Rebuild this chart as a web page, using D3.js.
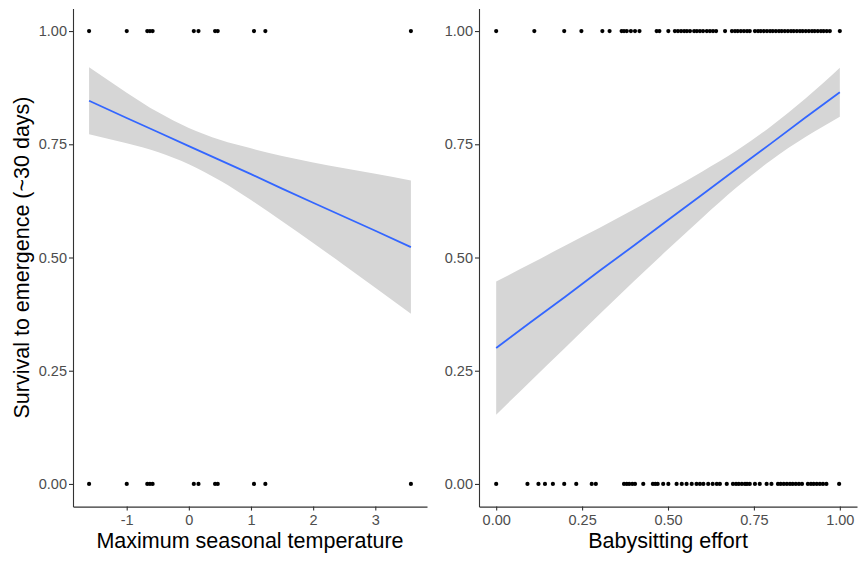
<!DOCTYPE html>
<html>
<head>
<meta charset="utf-8">
<script src="https://cdn.jsdelivr.net/npm/d3@7"></script>
<style>
  html, body { margin: 0; padding: 0; background: #fff; }
  svg { display: block; font-family: Arial, "Liberation Sans", sans-serif; }
</style>
</head>
<body>
<svg id="chart" width="858" height="561"></svg>
<script>
// ---- Panel A: maximum seasonal temperature ----
const tempSurvived = [-1.605, -0.999, -0.669, -0.626, -0.583, 0.080, 0.155, 0.422, 0.465, 1.048, 1.231, 3.573];
const tempDied     = [-1.605, -0.999, -0.669, -0.626, -0.583, 0.080, 0.155, 0.422, 0.465, 1.048, 1.231, 3.573];
// fitted line with 95% confidence band
const tempGrid  = [-1.605, -1.0, -0.5, 0.0, 0.5, 1.0, 1.5, 2.0, 2.5, 3.0, 3.573];
const tempFit   = [0.846, 0.808, 0.777, 0.746, 0.715, 0.684, 0.652, 0.621, 0.590, 0.559, 0.523];
const tempLower = [0.772, 0.752, 0.733, 0.706, 0.670, 0.627, 0.580, 0.532, 0.483, 0.433, 0.376];
const tempUpper = [0.920, 0.864, 0.821, 0.786, 0.760, 0.741, 0.724, 0.710, 0.697, 0.685, 0.670];
const tempTicks = [-1, 0, 1, 2, 3];

// ---- Panel B: babysitting effort ----
const sitSurvived = [0.000, 0.111, 0.198, 0.248, 0.309, 0.330, 0.365, 0.372, 0.380, 0.392, 0.404, 0.417,
  0.467, 0.475, 0.501, 0.520, 0.529, 0.538, 0.547, 0.555, 0.564, 0.576, 0.584, 0.593, 0.602, 0.613,
  0.622, 0.631, 0.640, 0.666, 0.686, 0.695, 0.703, 0.712, 0.721, 0.730, 0.738, 0.753, 0.762, 0.770,
  0.779, 0.788, 0.797, 0.805, 0.814, 0.823, 0.831, 0.840, 0.849, 0.858, 0.866, 0.875, 0.884, 0.892,
  0.901, 0.910, 0.919, 0.927, 0.936, 0.945, 0.953, 0.962, 0.971, 1.000];
const sitDied = [0.000, 0.091, 0.123, 0.142, 0.165, 0.198, 0.233, 0.278, 0.290, 0.372, 0.380, 0.387,
  0.396, 0.404, 0.428, 0.456, 0.463, 0.470, 0.486, 0.501, 0.525, 0.540, 0.554, 0.569, 0.583, 0.593,
  0.603, 0.617, 0.630, 0.642, 0.651, 0.671, 0.689, 0.698, 0.706, 0.715, 0.724, 0.730, 0.738, 0.753,
  0.767, 0.787, 0.801, 0.820, 0.828, 0.837, 0.846, 0.855, 0.863, 0.872, 0.881, 0.890, 0.907, 0.916,
  0.924, 0.933, 0.942, 0.951, 0.961, 0.998];
const sitGrid  = [0.0, 0.1, 0.2, 0.3, 0.4, 0.5, 0.6, 0.7, 0.8, 0.9, 1.0];
const sitFit   = [0.300, 0.357, 0.413, 0.470, 0.526, 0.583, 0.639, 0.696, 0.752, 0.809, 0.865];
const sitLower = [0.153, 0.227, 0.300, 0.374, 0.447, 0.518, 0.588, 0.655, 0.715, 0.766, 0.811];
const sitUpper = [0.447, 0.486, 0.526, 0.565, 0.606, 0.647, 0.690, 0.736, 0.790, 0.851, 0.919];
const sitTicks = [0, 0.25, 0.5, 0.75, 1];

const yTicks = [0, 0.25, 0.5, 0.75, 1];
const yTitle = "Survival to emergence (~30 days)";

const svg = d3.select("#chart");

// y scale shared by both panels (outcome 0/1 padded 5% each side)
const y = d3.scaleLinear().domain([-0.05, 1.05]).range([506.6, 8.4]);

function expand(ext) {
  const pad = (ext[1] - ext[0]) * 0.05;
  return [ext[0] - pad, ext[1] + pad];
}

function panel(opts) {
  const g = svg.append("g");
  const x = d3.scaleLinear()
    .domain(expand(d3.extent(opts.alive.concat(opts.dead))))
    .range([opts.x0, opts.x1]);

  // confidence band
  const band = opts.grid.map((v, i) => ({x: v, lo: opts.lower[i], hi: opts.upper[i], fit: opts.fit[i]}));
  g.append("path")
    .datum(band)
    .attr("fill", "#D6D6D6")
    .attr("d", d3.area().curve(d3.curveMonotoneX)
      .x(d => x(d.x)).y0(d => y(d.lo)).y1(d => y(d.hi)));

  // fitted line
  g.append("path")
    .datum(band)
    .attr("fill", "none")
    .attr("stroke", "#3366FF")
    .attr("stroke-width", 1.8)
    .attr("d", d3.line().x(d => x(d.x)).y(d => y(d.fit)));

  // observations
  const pts = opts.alive.map(v => ({x: v, y: 1})).concat(opts.dead.map(v => ({x: v, y: 0})));
  g.append("g").selectAll("circle")
    .data(pts).join("circle")
    .attr("cx", d => x(d.x)).attr("cy", d => y(d.y))
    .attr("r", 2.1).attr("fill", "#000");

  // axes
  const xAxis = g.append("g")
    .attr("transform", `translate(0,${y.range()[0]})`)
    .call(d3.axisBottom(x).tickValues(opts.xTicks).tickFormat(opts.xFormat).tickSize(4).tickSizeOuter(0));
  const yAxis = g.append("g")
    .attr("transform", `translate(${opts.x0},0)`)
    .call(d3.axisLeft(y).tickValues(yTicks).tickFormat(d3.format(".2f")).tickSize(4).tickSizeOuter(0));

  [xAxis, yAxis].forEach(a => {
    a.select(".domain").attr("stroke", "#333").attr("stroke-width", 1.1);
    a.selectAll(".tick line").attr("stroke", "#333").attr("stroke-width", 1.1);
    a.selectAll(".tick text").attr("fill", "#4D4D4D").style("font-size", "14.5px");
  });
  xAxis.selectAll(".tick text").attr("dy", "0.71em").attr("y", 8);
  yAxis.selectAll(".tick text").attr("x", -6);

  // x axis title
  g.append("text")
    .attr("x", (opts.x0 + opts.x1) / 2)
    .attr("y", 548)
    .attr("text-anchor", "middle")
    .attr("fill", "#000")
    .style("font-size", "21.5px")
    .text(opts.title);
}

panel({
  alive: tempSurvived, dead: tempDied,
  grid: tempGrid, fit: tempFit, lower: tempLower, upper: tempUpper,
  xTicks: tempTicks, xFormat: d => String(d),
  x0: 73, x1: 427,
  title: "Maximum seasonal temperature"
});

panel({
  alive: sitSurvived, dead: sitDied,
  grid: sitGrid, fit: sitFit, lower: sitLower, upper: sitUpper,
  xTicks: sitTicks, xFormat: d3.format(".2f"),
  x0: 479, x1: 857,
  title: "Babysitting effort"
});

// shared y axis title
svg.append("text")
  .attr("transform", `translate(29,${(y.range()[0] + y.range()[1]) / 2}) rotate(-90)`)
  .attr("text-anchor", "middle")
  .attr("fill", "#000")
  .style("font-size", "21.5px")
  .text(yTitle);
</script>
</body>
</html>
